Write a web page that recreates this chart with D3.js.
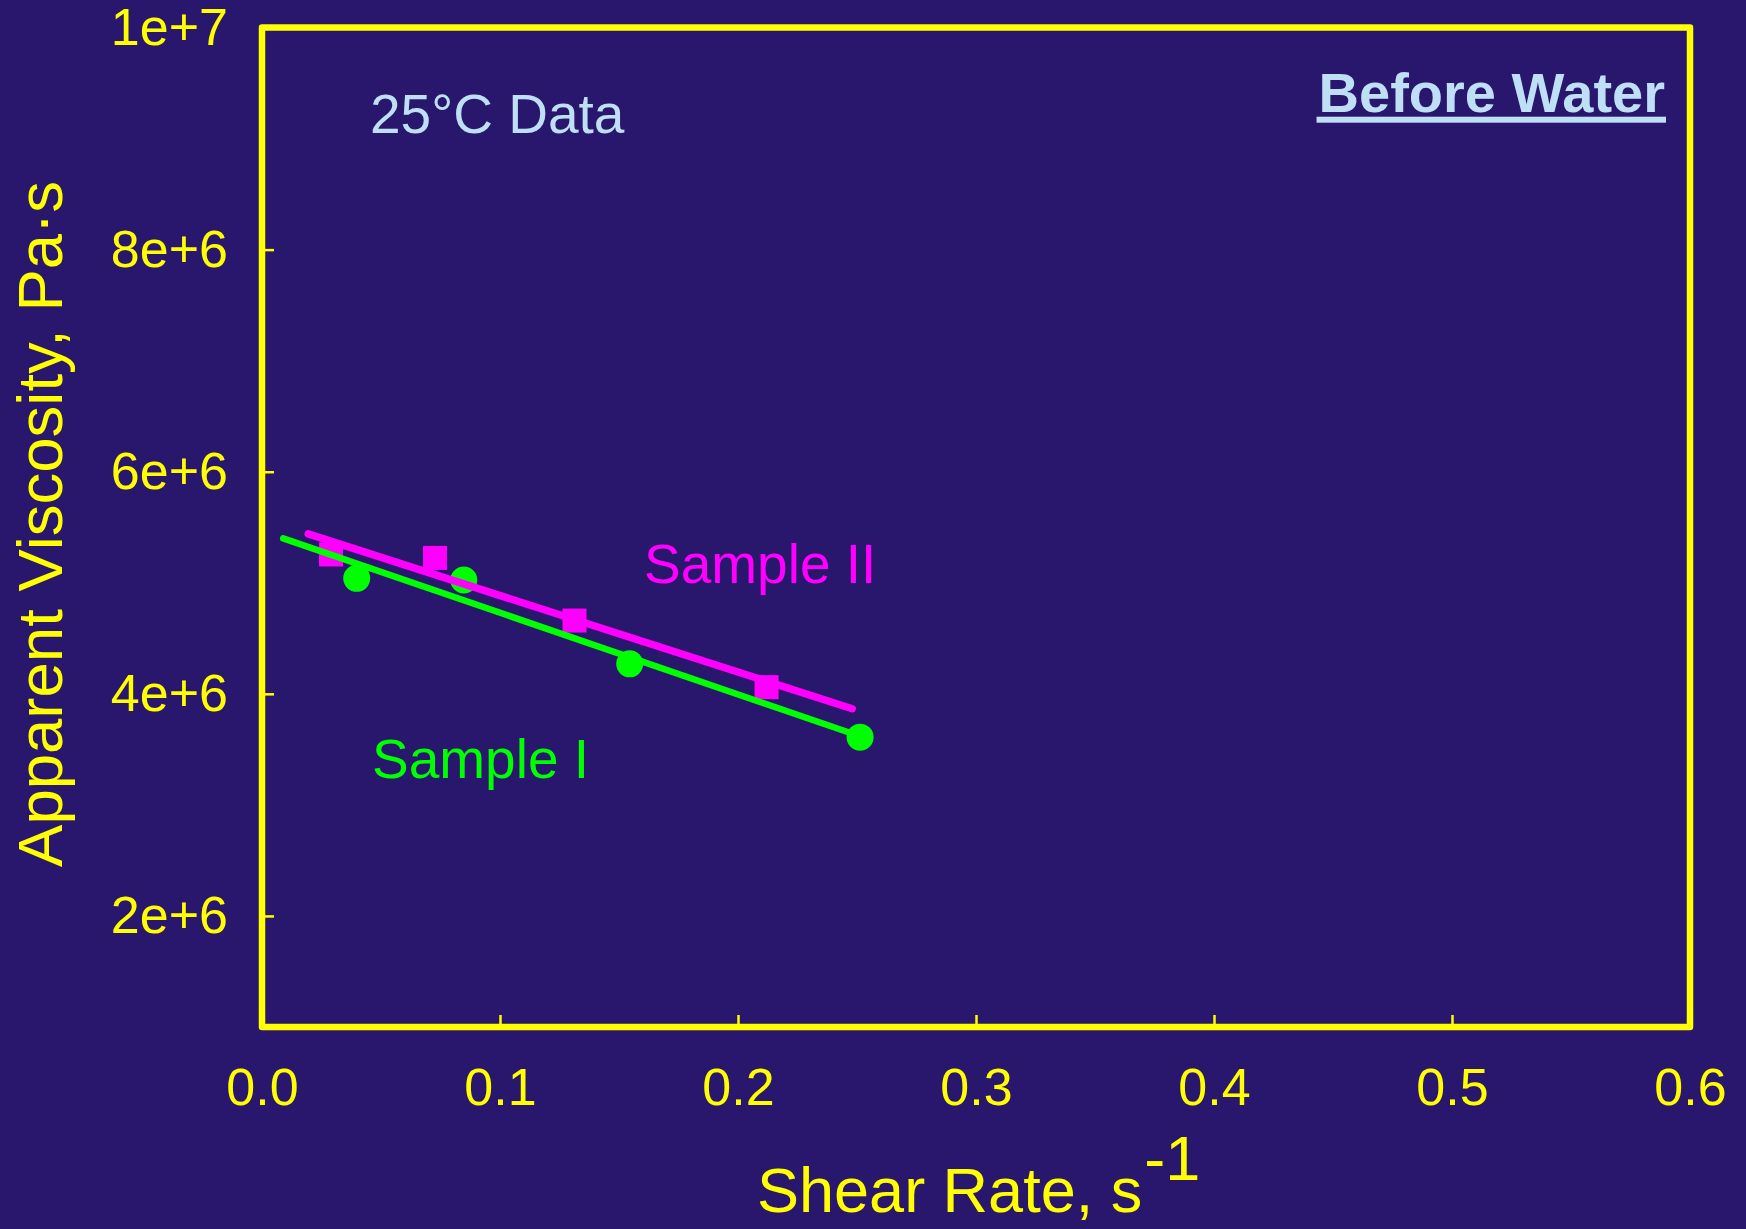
<!DOCTYPE html>
<html>
<head>
<meta charset="utf-8">
<script src="https://cdn.jsdelivr.net/npm/d3@7"></script>
<style>
  html, body { margin: 0; padding: 0; background: #29176d; }
  svg { display: block; font-family: "Liberation Sans", Arial, sans-serif; }
</style>
</head>
<body>
<div id="chart"></div>
<script>
// data
var xTicks = [0.0, 0.1, 0.2, 0.3, 0.4, 0.5, 0.6];
var yTicks = [2e6, 4e6, 6e6, 8e6, 1e7];
var yTickLabels = ["2e+6", "4e+6", "6e+6", "8e+6", "1e+7"];

var sample1Rate = [0.0398, 0.0848, 0.1545, 0.2513];
var sample1Visc = [5.04e6, 5.025e6, 4.27e6, 3.61e6];
var sample2Rate = [0.029, 0.0727, 0.1313, 0.212];
var sample2Visc = [5.255e6, 5.224e6, 4.66e6, 4.06e6];

// fitted lines (end points)
var fit1Rate = [0.0089, 0.251];
var fit1Visc = [5.40e6, 3.62e6];
var fit2Rate = [0.0194, 0.248];
var fit2Visc = [5.44e6, 3.866e6];

var width = 1746, height = 1229;
var plotLeft = 262, plotRight = 1690, plotTop = 27.5, plotBottom = 1027;
var yellow = "#ffff00", green = "#00ff00", magenta = "#ff00ff", pale = "#bfdff7";

var svg = d3.select("#chart").append("svg")
  .attr("width", width).attr("height", height);

svg.append("rect").attr("width", width).attr("height", height).attr("fill", "#29176d");

var x = d3.scaleLinear().domain([0, 0.6]).range([plotLeft, plotRight]);
var y = d3.scaleLinear().domain([1e6, 1e7]).range([plotBottom, plotTop]);

function zip(a, b){
  return a.map(function(v, i){ return [v, b[i]]; });
}

// axes
var xAxis = svg.append("g")
  .attr("transform", "translate(0," + plotBottom + ")")
  .call(d3.axisBottom(x).tickValues(xTicks).tickFormat(d3.format(".1f"))
    .tickSizeInner(-12).tickSizeOuter(0).tickPadding(41));

var yAxis = svg.append("g")
  .attr("transform", "translate(" + plotLeft + ",0)")
  .call(d3.axisLeft(y).tickValues(yTicks)
    .tickFormat(function(d, i){ return yTickLabels[i]; })
    .tickSizeInner(-12).tickSizeOuter(0).tickPadding(34));

[xAxis, yAxis].forEach(function(ax){
  ax.select(".domain").remove();
  ax.selectAll(".tick line").attr("stroke", yellow).attr("stroke-width", 2.5);
  ax.selectAll(".tick text").attr("fill", yellow).attr("font-size", 52)
    .attr("font-family", "Liberation Sans, Arial, sans-serif");
});

// frame
svg.append("rect")
  .attr("x", plotLeft).attr("y", plotTop)
  .attr("width", plotRight - plotLeft).attr("height", plotBottom - plotTop)
  .attr("fill", "none").attr("stroke", yellow).attr("stroke-width", 6.5)
  .attr("stroke-linejoin", "round");

var line = d3.line().x(function(d){ return x(d[0]); }).y(function(d){ return y(d[1]); });

// Sample II squares
svg.append("g").selectAll("rect")
  .data(zip(sample2Rate, sample2Visc))
  .enter().append("rect")
  .attr("x", function(d){ return x(d[0]) - 12; })
  .attr("y", function(d){ return y(d[1]) - 12; })
  .attr("width", 24).attr("height", 24)
  .attr("fill", magenta);

// Sample I fit + circles
svg.append("path").datum(zip(fit1Rate, fit1Visc))
  .attr("d", line).attr("fill", "none").attr("stroke", green)
  .attr("stroke-width", 6.5).attr("stroke-linecap", "round");

svg.append("g").selectAll("circle")
  .data(zip(sample1Rate, sample1Visc))
  .enter().append("circle")
  .attr("cx", function(d){ return x(d[0]); })
  .attr("cy", function(d){ return y(d[1]); })
  .attr("r", 13.5)
  .attr("fill", green);

// Sample II fit
svg.append("path").datum(zip(fit2Rate, fit2Visc))
  .attr("d", line).attr("fill", "none").attr("stroke", magenta)
  .attr("stroke-width", 7.5).attr("stroke-linecap", "round");

// labels
svg.append("text").attr("x", 644).attr("y", 583).attr("fill", magenta)
  .attr("font-size", 55).text("Sample II");
svg.append("text").attr("x", 372).attr("y", 778).attr("fill", green)
  .attr("font-size", 55).text("Sample I");

svg.append("text").attr("x", 370).attr("y", 133).attr("fill", pale)
  .attr("font-size", 55).text("25°C Data");

var bw = svg.append("text").attr("x", 1665).attr("y", 111.5).attr("fill", pale)
  .attr("font-size", 56).attr("font-weight", "bold").attr("text-anchor", "end")
  .text("Before Water");
var bb = bw.node().getBBox();
svg.append("rect").attr("x", bb.x - 2).attr("y", 116.7)
  .attr("width", bb.width + 3).attr("height", 6).attr("fill", pale);

// axis titles
var xt = svg.append("text").attr("x", 757).attr("y", 1211.5).attr("fill", yellow)
  .attr("font-size", 63);
xt.append("tspan").text("Shear Rate, s");
xt.append("tspan").attr("dy", -32).attr("dx", 2).text("-1");

svg.append("text")
  .attr("transform", "translate(62,524) rotate(-90)")
  .attr("text-anchor", "middle").attr("fill", yellow)
  .attr("font-size", 63.5).text("Apparent Viscosity, Pa·s");
</script>
</body>
</html>
